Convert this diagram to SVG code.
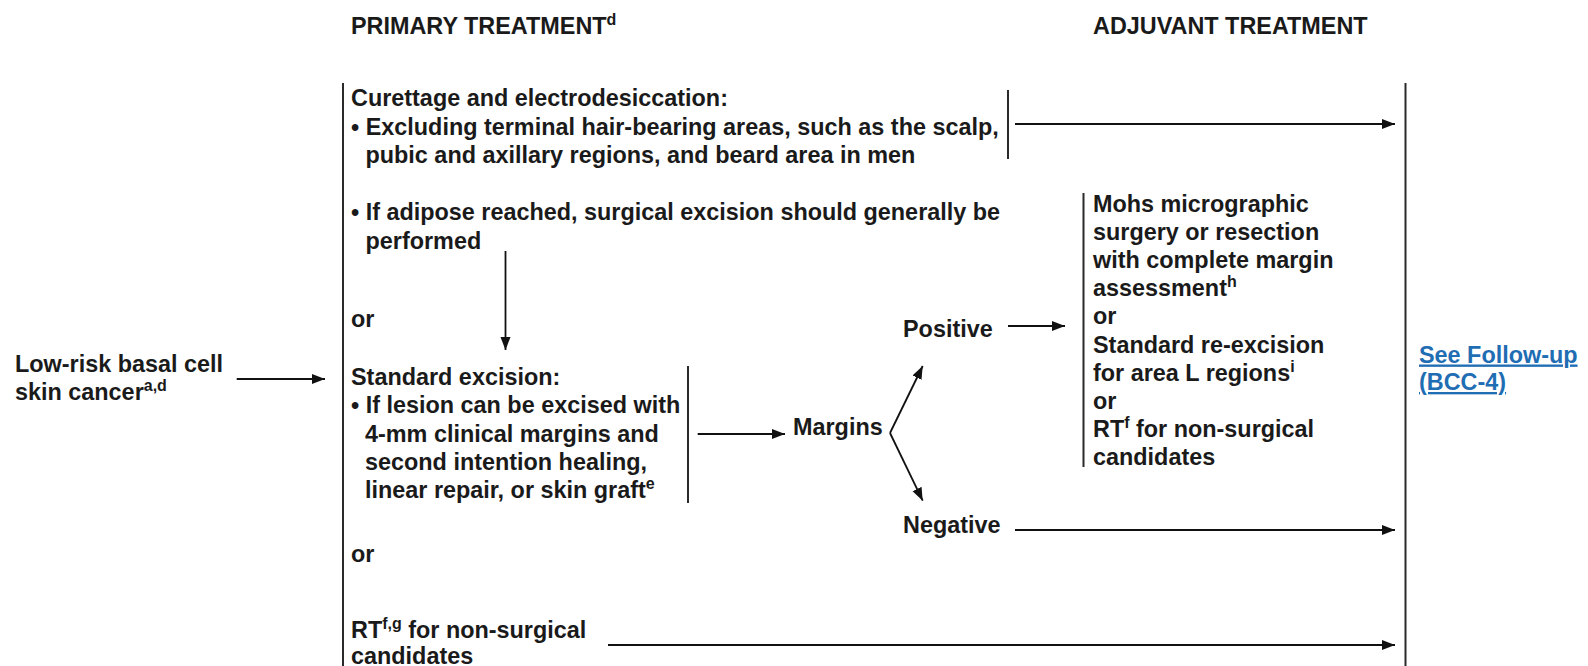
<svg xmlns="http://www.w3.org/2000/svg" width="1588" height="666" viewBox="0 0 1588 666">
<style>
text{font-family:"Liberation Sans",Arial,sans-serif;font-weight:bold;font-size:23.4px;fill:#1a1a1a}
.sup{font-size:16px}
.link{fill:#1f6db3;text-decoration:underline}
.bar{stroke:#2a2a2a;stroke-width:2;fill:none}
.arr{stroke:#111;stroke-width:1.8;fill:none;marker-end:url(#ah)}
</style>
<defs>
<marker id="ah" markerUnits="userSpaceOnUse" markerWidth="14" markerHeight="11" refX="13" refY="5" orient="auto">
<path d="M0,0 L13,5 L0,10 z" fill="#111"/>
</marker>
</defs>
<rect width="1588" height="666" fill="#fff"/>
<g id="headers">
<text x="351" y="34">PRIMARY TREATMENT<tspan class="sup" dy="-9">d</tspan></text>
<text x="1093" y="34">ADJUVANT TREATMENT</text>
</g>
<g id="node-input">
<text x="15" y="372">Low-risk basal cell</text>
<text x="15" y="400">skin cancer<tspan class="sup" dy="-9">a,d</tspan></text>
</g>
<g id="node-curettage">
<text x="351" y="106">Curettage and electrodesiccation:</text>
<text x="351" y="134.5">• Excluding terminal hair-bearing areas, such as the scalp,</text>
<text x="365.5" y="163">pubic and axillary regions, and beard area in men</text>
<text x="351" y="220">• If adipose reached, surgical excision should generally be</text>
<text x="365.5" y="248.5">performed</text>
</g>
<g id="node-or1"><text x="351" y="327">or</text></g>
<g id="node-excision">
<text x="351" y="385">Standard excision:</text>
<text x="351" y="413">• If lesion can be excised with</text>
<text x="365" y="441.5">4-mm clinical margins and</text>
<text x="365" y="470">second intention healing,</text>
<text x="365" y="498">linear repair, or skin graft<tspan class="sup" dy="-9">e</tspan></text>
</g>
<g id="node-or2"><text x="351" y="561.7">or</text></g>
<g id="node-rt">
<text x="351" y="638.3">RT<tspan class="sup" dy="-9">f,g</tspan><tspan dy="9"> for non-surgical</tspan></text>
<text x="351" y="664">candidates</text>
</g>
<g id="node-margins"><text x="793" y="435">Margins</text></g>
<g id="node-positive"><text x="903" y="337">Positive</text></g>
<g id="node-negative"><text x="903" y="533">Negative</text></g>
<g id="node-mohs">
<text x="1093" y="211.5">Mohs micrographic</text>
<text x="1093" y="239.7">surgery or resection</text>
<text x="1093" y="267.9">with complete margin</text>
<text x="1093" y="296.1">assessment<tspan class="sup" dy="-9">h</tspan></text>
<text x="1093" y="324.3">or</text>
<text x="1093" y="352.5">Standard re-excision</text>
<text x="1093" y="380.7">for area L regions<tspan class="sup" dy="-9">i</tspan></text>
<text x="1093" y="408.9">or</text>
<text x="1093" y="437.1">RT<tspan class="sup" dy="-9">f</tspan><tspan dy="9"> for non-surgical</tspan></text>
<text x="1093" y="465.3">candidates</text>
</g>
<g id="node-followup">
<text class="link" x="1419" y="362.5">See Follow-up</text>
<text class="link" x="1419" y="390">(BCC-4)</text>
</g>
<g id="connectors">
<line class="bar" x1="343" y1="83" x2="343" y2="666"/>
<line class="bar" x1="1405.5" y1="83" x2="1405.5" y2="666"/>
<line class="bar" x1="1008" y1="90" x2="1008" y2="159"/>
<line class="bar" x1="688" y1="366" x2="688" y2="503"/>
<line class="bar" x1="1083.5" y1="193" x2="1083.5" y2="467"/>
<line class="arr" x1="236.7" y1="379" x2="325" y2="379"/>
<line class="arr" x1="1015" y1="124" x2="1395" y2="124"/>
<line class="arr" x1="505.5" y1="251" x2="505.5" y2="350"/>
<line class="arr" x1="697.7" y1="434" x2="785" y2="434"/>
<line class="arr" x1="890" y1="433" x2="922.7" y2="366"/>
<line class="arr" x1="890" y1="433" x2="922.7" y2="500.7"/>
<line class="arr" x1="1008" y1="326" x2="1065" y2="326"/>
<line class="arr" x1="1015" y1="530" x2="1395" y2="530"/>
<line class="arr" x1="608" y1="645" x2="1395" y2="645"/>
</g>
</svg>
